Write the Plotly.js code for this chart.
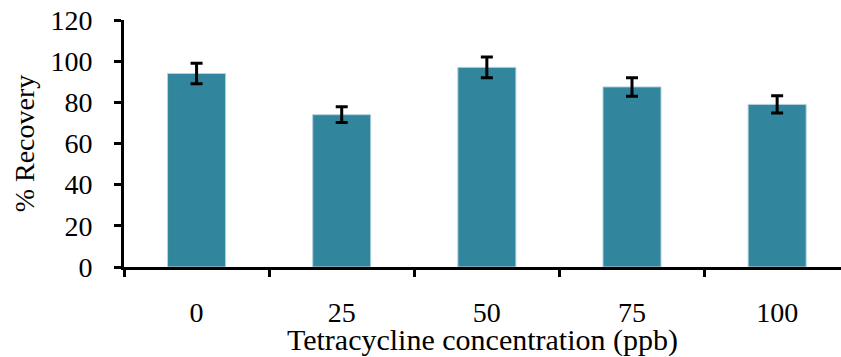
<!DOCTYPE html>
<html>
<head>
<meta charset="utf-8">
<script src="https://cdn.plot.ly/plotly-3.0.1.min.js"></script>
<style>html,body{margin:0;padding:0;background:#fff;}#chart{width:841px;height:357px;}</style>
</head>
<body>
<div id="chart"></div>
<script>
const categories = ["0", "25", "50", "75", "100"];
const recovery = [94, 74, 97, 87.5, 79];
const errors = [5, 3.8, 5, 4.5, 4.2];

const trace = {
  type: "bar",
  x: categories,
  y: recovery,
  width: 0.4,
  marker: { color: "#31859c", line: { color: "#b7d3dc", width: 1 } },
  error_y: { type: "data", array: errors, visible: true, color: "#000", thickness: 3, width: 6 },
  hoverinfo: "none"
};

const tickFont = { family: "Liberation Serif", size: 28, color: "#000" };
const xTitleFont = { family: "Liberation Serif", size: 30, color: "#000" };
const yTitleFont = { family: "Liberation Serif", size: 28, color: "#000" };

const layout = {
  width: 841, height: 357,
  margin: { l: 124, r: 0, t: 20, b: 90 },
  paper_bgcolor: "#fff", plot_bgcolor: "#fff",
  showlegend: false,
  font: tickFont,
  xaxis: {
    type: "category",
    range: [-0.5, 4.44],
    tickson: "boundaries",
    ticks: "outside", ticklen: 7, tickwidth: 3, tickcolor: "#000",
    showline: true, linecolor: "#000", linewidth: 3,
    showgrid: false, zeroline: false,
    ticklabelstandoff: 18,
    tickfont: tickFont,
    title: { text: "Tetracycline concentration (ppb)", font: xTitleFont, standoff: 0 }
  },
  yaxis: {
    range: [0, 120],
    dtick: 20,
    ticks: "outside", ticklen: 7, tickwidth: 3, tickcolor: "#000",
    showline: true, linecolor: "#000", linewidth: 3,
    showgrid: false, zeroline: false,
    ticklabelstandoff: 16,
    tickfont: tickFont,
    title: { text: "% Recovery", font: yTitleFont, standoff: 8 }
  }
};

Plotly.newPlot("chart", [trace], layout, { displayModeBar: false, staticPlot: true });
</script>
</body>
</html>
